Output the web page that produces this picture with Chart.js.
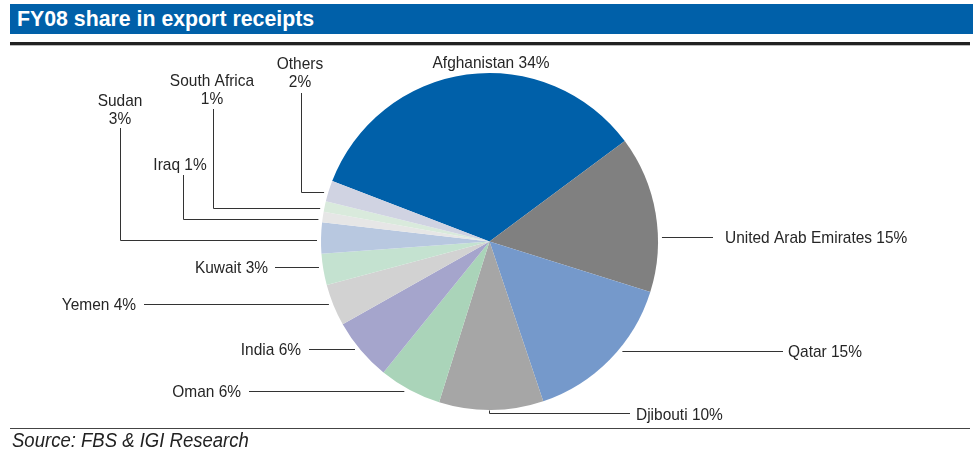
<!DOCTYPE html>
<html>
<head>
<meta charset="utf-8">
<script src="https://cdn.jsdelivr.net/npm/chart.js@4.4.0/dist/chart.umd.min.js"></script>
<style>
  body { margin: 0; background: #fff; }
  #wrap { position: relative; width: 978px; height: 450px; font-family: "Liberation Sans", Arial, sans-serif; }
  #title { position: absolute; left: 10px; top: 4px; width: 963px; height: 30px; background: #0060a9;
           color: #fff; font-weight: bold; font-size: 21.3px; line-height: 31px; text-indent: 7px; }
  #rule1 { position: absolute; left: 10px; top: 42px; width: 960px; height: 3px; background: #222; }
  #rule2 { position: absolute; left: 10px; top: 45px; width: 960px; height: 1px; background: #bbb; }
  #rule3 { position: absolute; left: 10px; top: 428px; width: 960px; height: 1px; background: #444; }
  #source { position: absolute; left: 12px; top: 429px; font-style: italic; font-size: 19.5px; color: #222;
            transform: scaleX(0.95); transform-origin: left top; white-space: nowrap; }
  #chart { position: absolute; left: 0; top: 0; }
</style>
</head>
<body>
<div id="wrap">
  <div id="title">FY08 share in export receipts</div>
  <div id="rule1"></div>
  <div id="rule2"></div>
  <canvas id="chart" width="978" height="450"></canvas>
  <div id="rule3"></div>
  <div id="source">Source: FBS &amp; IGI Research</div>
</div>
<script>
var countries = ["Afghanistan", "United Arab Emirates", "Qatar", "Djibouti", "Oman", "India",
                 "Yemen", "Kuwait", "Sudan", "Iraq", "South Africa", "Others"];
var shares = [34, 15, 15, 10, 6, 6, 4, 3, 3, 1, 1, 2];
var sliceColors = ["#0060a9", "#808080", "#7599cb", "#a6a6a6", "#aad4b9", "#a5a5cc",
                   "#d2d2d2", "#c4e2d0", "#b8c8e0", "#e6e6e6", "#d9eadc", "#d0d3e2"];

// where each label sits and how its leader line runs to the pie
// side: "h" = straight horizontal line at the label's height
//       "elbow" = vertical drop from the label, then across to the pie
//       "bottom" = short tick under the pie, then across to the label
var spots = [
  { x: 491, y: [62], align: "center" },
  { x: 725, y: [237], align: "left", side: "h", from: 713 },
  { x: 788, y: [351], align: "left", side: "h", from: 783 },
  { x: 636, y: [414], align: "left", side: "bottom", from: 630, lineX: 489 },
  { x: 241, y: [391], align: "right", side: "h", from: 249 },
  { x: 301, y: [349], align: "right", side: "h", from: 309 },
  { x: 136, y: [304], align: "right", side: "h", from: 144 },
  { x: 268, y: [267], align: "right", side: "h", from: 275 },
  { x: 120, y: [100, 118], align: "center", side: "elbow", lineX: 120, top: 128, lineY: 240 },
  { x: 180, y: [164], align: "center", side: "elbow", lineX: 183, top: 175, lineY: 219 },
  { x: 212, y: [80, 98], align: "center", side: "elbow", lineX: 213, top: 109, lineY: 208 },
  { x: 300, y: [63, 81], align: "center", side: "elbow", lineX: 301, top: 93, lineY: 192 }
];

function labelText(i) {
  var name = countries[i];
  var pct = shares[i] + "%";
  if (spots[i].y.length > 1) return [name, pct];
  return [name + " " + pct];
}

// labels use a slightly condensed face
function squeezedText(ctx, t, x, y) {
  ctx.save();
  ctx.translate(x, y);
  ctx.scale(0.91, 1);
  ctx.fillText(t, 0, 0);
  ctx.restore();
}

var pieLabels = {
  id: "pieLabels",
  afterDraw: function (chart) {
    var ctx = chart.ctx;
    var arc = chart.getDatasetMeta(0).data[0];
    var cx = arc.x, cy = arc.y, r = arc.outerRadius + 4;
    // x on the ring just outside the pie at a given height
    function edgeX(y, dir) {
      var dy = y - cy;
      return cx + dir * Math.sqrt(Math.max(r * r - dy * dy, 0));
    }
    ctx.save();
    ctx.font = "17px 'Liberation Sans', Arial, sans-serif";
    ctx.fillStyle = "#262626";
    ctx.strokeStyle = "#333";
    ctx.lineWidth = 1;
    ctx.textBaseline = "middle";
    spots.forEach(function (s, i) {
      var lines = labelText(i);
      ctx.textAlign = s.align;
      lines.forEach(function (t, k) { squeezedText(ctx, t, s.x, s.y[k] + 1); });

      ctx.beginPath();
      if (s.side === "h") {
        var y = Math.round(s.y[0]) + 0.5;
        var dir = s.align === "left" ? 1 : -1;
        ctx.moveTo(s.from, y);
        ctx.lineTo(edgeX(y, dir), y);
      } else if (s.side === "elbow") {
        var ly = s.lineY + 0.5;
        ctx.moveTo(s.lineX + 0.5, s.top);
        ctx.lineTo(s.lineX + 0.5, ly);
        ctx.lineTo(edgeX(ly, -1), ly);
      } else if (s.side === "bottom") {
        var by = Math.round(cy + r) - 0.5;
        ctx.moveTo(s.lineX + 0.5, by - 3);
        ctx.lineTo(s.lineX + 0.5, by);
        ctx.lineTo(s.from, by);
      }
      ctx.stroke();
    });
    ctx.restore();
  }
};

new Chart(document.getElementById("chart"), {
  type: "pie",
  data: {
    labels: countries,
    datasets: [{
      data: shares,
      backgroundColor: sliceColors,
      borderWidth: 0
    }]
  },
  options: {
    responsive: false,
    animation: false,
    rotation: -69,
    layout: { padding: { top: 73, bottom: 40, left: 321, right: 320 } },
    plugins: {
      legend: { display: false },
      tooltip: { enabled: false }
    }
  },
  plugins: [pieLabels]
});
</script>
</body>
</html>
